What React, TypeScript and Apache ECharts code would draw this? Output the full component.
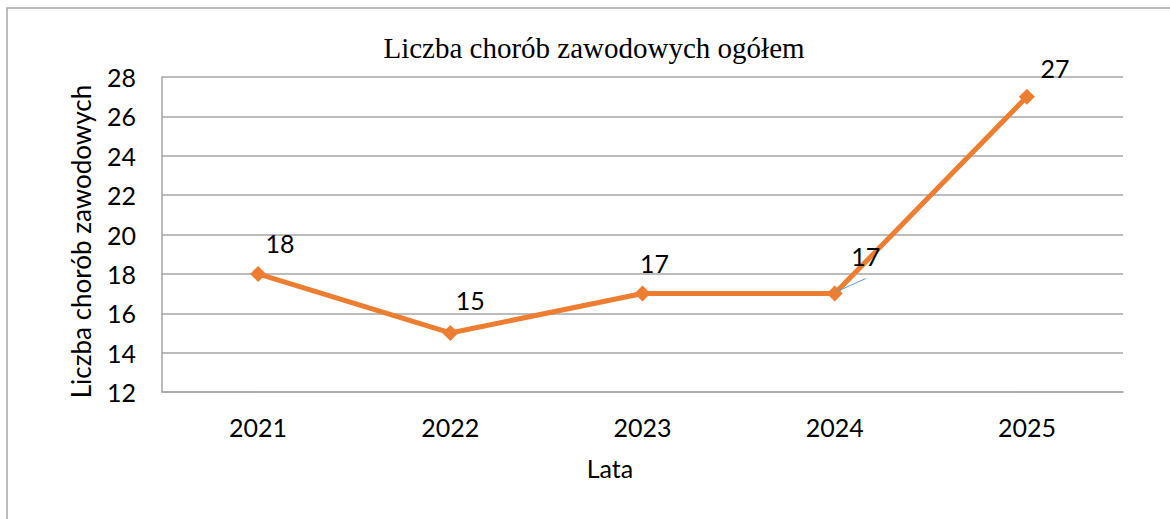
import React, { useEffect, useRef } from "react";
import * as echarts from "echarts";

const title = "Liczba chorób zawodowych ogółem";
const yAxisName = "Liczba chorób zawodowych";
const xAxisName = "Lata";
const categories = ["2021", "2022", "2023", "2024", "2025"];
const values = [18, 15, 17, 17, 27];
const yMin = 12;
const yMax = 28;
const yStep = 2;

const labelOffsets: [number, number][] = [
  [22, -31],
  [20, -33],
  [12, -31],
  [31, -38],
  [28, -29],
];
const leaderIndex = 3;

export default function App() {
  const ref = useRef<HTMLDivElement>(null);
  useEffect(() => {
    document.body.style.margin = "0";
    if (!ref.current) return;
    const chart = echarts.init(ref.current, undefined, { renderer: "svg" });
    const font = "Lato";
    chart.setOption({
      animation: false,
      backgroundColor: "#ffffff",
      title: {
        text: title,
        left: 589,
        top: 28,
        textAlign: "center",
        textStyle: {
          fontFamily: "Liberation Serif",
          fontWeight: "normal",
          fontSize: 29,
          color: "#000",
        },
      },
      graphic: [
        {
          type: "rect",
          shape: { x: 7, y: 8, width: 1300, height: 700 },
          style: { fill: "none", stroke: "#a6a6a6", lineWidth: 1.5 },
          silent: true,
        },
      ],
      grid: { left: 162, top: 77, right: 47, bottom: 127 },
      xAxis: {
        type: "category",
        data: categories,
        boundaryGap: true,
        name: xAxisName,
        nameLocation: "middle",
        nameGap: 63,
        nameTextStyle: {
          fontFamily: font,
          fontSize: 25,
          color: "#000",
          padding: [0, 65, 0, 0],
        },
        axisLine: { show: true, lineStyle: { color: "#a6a6a6", width: 1.5 } },
        axisTick: { show: false },
        axisLabel: { fontFamily: font, fontSize: 25, color: "#000", margin: 22 },
        splitLine: { show: false },
      },
      yAxis: {
        type: "value",
        min: yMin,
        max: yMax,
        interval: yStep,
        name: yAxisName,
        nameLocation: "middle",
        nameGap: 68,
        nameTextStyle: {
          fontFamily: font,
          fontSize: 26,
          color: "#000",
          padding: [0, 14, 0, 0],
        },
        axisLine: { show: true, lineStyle: { color: "#a6a6a6", width: 1.5 } },
        axisTick: { show: false },
        axisLabel: { fontFamily: font, fontSize: 25, color: "#000", margin: 26 },
        splitLine: { show: true, lineStyle: { color: "#a6a6a6", width: 1.5 } },
      },
      series: [
        {
          type: "line",
          data: values,
          symbol: "diamond",
          symbolSize: 16,
          itemStyle: { color: "#ED7D31" },
          lineStyle: { color: "#ED7D31", width: 5 },
          label: {
            show: true,
            position: "inside",
            fontFamily: font,
            fontSize: 25,
            color: "#000",
          },
          labelLayout: (params: any) => ({
            dx: labelOffsets[params.dataIndex][0],
            dy: labelOffsets[params.dataIndex][1],
          }),
          z: 3,
        },
      ],
    });
    const p = chart.convertToPixel({ seriesIndex: 0 }, [leaderIndex, values[leaderIndex]]) as number[];
    if (p) {
      chart.setOption({
        graphic: [
          {
            type: "rect",
            shape: { x: 7, y: 8, width: 1300, height: 700 },
            style: { fill: "none", stroke: "#a6a6a6", lineWidth: 1.5 },
            silent: true,
          },
          {
            type: "line",
            shape: { x1: p[0] + 2, y1: p[1] - 2, x2: p[0] + 31, y2: p[1] - 15 },
            style: { stroke: "#5B9BD5", lineWidth: 1 },
            z: 10,
            silent: true,
          },
        ],
      });
    }
    return () => chart.dispose();
  }, []);
  return <div ref={ref} style={{ width: 1170, height: 519 }} />;
}
